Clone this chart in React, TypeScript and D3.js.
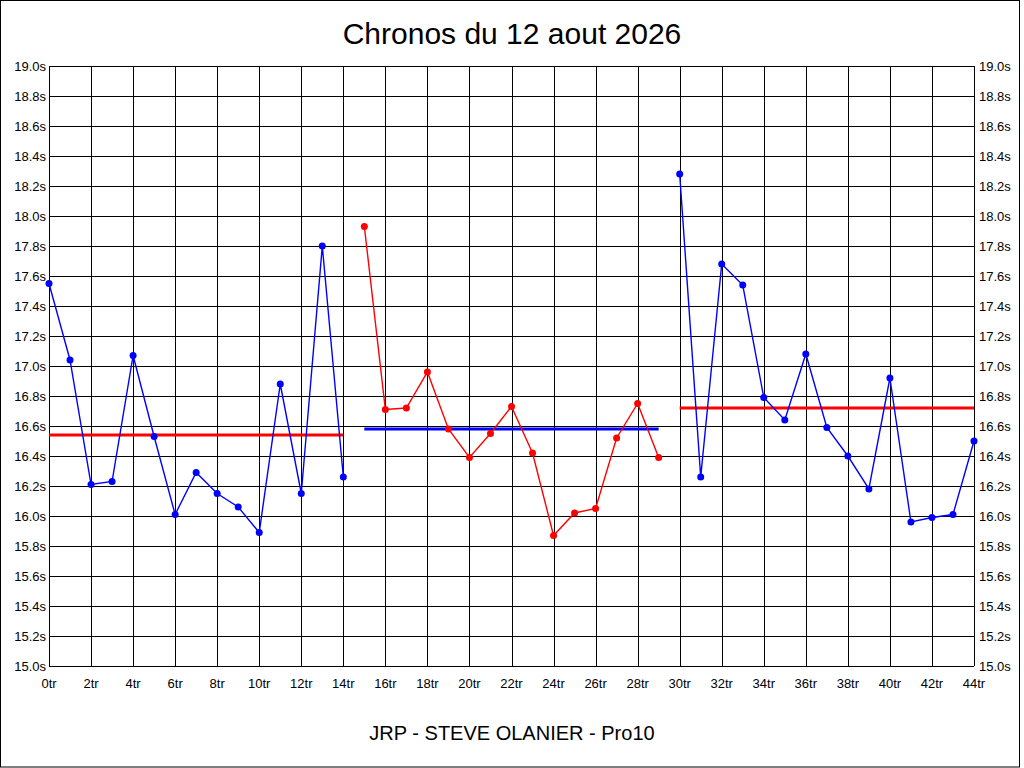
import React from "react";
import * as d3 from "d3";

const title = "Chronos du 12 aout 2026";
const footer = "JRP - STEVE OLANIER - Pro10";

const laps1 = [0, 1, 2, 3, 4, 5, 6, 7, 8, 9, 10, 11, 12, 13, 14];
const times1 = [17.55, 17.04, 16.21, 16.23, 17.07, 16.53, 16.01, 16.29, 16.15, 16.06, 15.89, 16.88, 16.15, 17.8, 16.26];

const laps2 = [15, 16, 17, 18, 19, 20, 21, 22, 23, 24, 25, 26, 27, 28, 29];
const times2 = [17.93, 16.71, 16.72, 16.96, 16.58, 16.39, 16.55, 16.73, 16.42, 15.87, 16.02, 16.05, 16.52, 16.75, 16.39];

const laps3 = [30, 31, 32, 33, 34, 35, 36, 37, 38, 39, 40, 41, 42, 43, 44];
const times3 = [18.28, 16.26, 17.68, 17.54, 16.79, 16.64, 17.08, 16.59, 16.4, 16.18, 16.92, 15.96, 15.99, 16.01, 16.5];

const means = [16.54, 16.58, 16.72];
const seriesColors = ["#0000ff", "#ff0000", "#0000ff"];
const meanColors = ["#ff0000", "#0000ff", "#ff0000"];

const xTicks = d3.range(0, 45, 2);
const yTicks = d3.range(0, 21).map((i) => +(15 + i * 0.2).toFixed(1));

const W = 1024;
const H = 768;
const FONT = "'Liberation Sans', Arial, sans-serif";

export default function App() {
  const x = d3.scaleLinear().domain([0, 44]).range([49, 974]);
  const y = d3.scaleLinear().domain([15, 19]).range([666, 66]);
  const px = (v: number) => Math.round(v) + 0.5;

  const groups = [
    { laps: laps1, times: times1 },
    { laps: laps2, times: times2 },
    { laps: laps3, times: times3 },
  ];

  const line = d3
    .line<[number, number]>()
    .x((d) => x(d[0]))
    .y((d) => y(d[1]));

  return (
    <svg
      width={W}
      height={H}
      style={{ position: "absolute", left: 0, top: 0, background: "#fff" }}
      fontFamily={FONT}
    >
      <rect x={0.5} y={0.5} width={W - 5} height={H - 1.5} fill="#fff" stroke="#000" strokeWidth={1} />
      <text x={512} y={44} textAnchor="middle" fontSize={30} fill="#000">
        {title}
      </text>
      <text x={512} y={740} textAnchor="middle" fontSize={20} fill="#000">
        {footer}
      </text>

      <g shapeRendering="crispEdges" stroke="#000" strokeWidth={1}>
        {xTicks.map((t) => (
          <line key={"vx" + t} x1={px(x(t))} x2={px(x(t))} y1={y(19)} y2={y(15)} />
        ))}
        {yTicks.map((t) => (
          <line key={"hy" + t} x1={x(0)} x2={x(44)} y1={px(y(t))} y2={px(y(t))} />
        ))}
      </g>

      <g fontSize={13} fill="#000">
        {yTicks.map((t) => (
          <text key={"ly" + t} x={46} y={y(t) + 5} textAnchor="end">
            {t.toFixed(1) + "s"}
          </text>
        ))}
        {yTicks.map((t) => (
          <text key={"ry" + t} x={979} y={y(t) + 5} textAnchor="start">
            {t.toFixed(1) + "s"}
          </text>
        ))}
        {xTicks.map((t) => (
          <text key={"lx" + t} x={x(t)} y={688} textAnchor="middle">
            {t + "tr"}
          </text>
        ))}
      </g>

      {groups.map((g, i) => (
        <line
          key={"mean" + i}
          x1={x(g.laps[0])}
          x2={x(g.laps[g.laps.length - 1])}
          y1={y(means[i])}
          y2={y(means[i])}
          stroke={meanColors[i]}
          strokeWidth={3}
        />
      ))}

      {groups.map((g, i) => (
        <g key={"s" + i}>
          <path
            d={line(g.laps.map((l, j) => [l, g.times[j]] as [number, number])) || ""}
            fill="none"
            stroke={seriesColors[i]}
            strokeWidth={1.4}
          />
          {g.laps.map((l, j) => (
            <circle key={j} cx={x(l)} cy={y(g.times[j])} r={3.5} fill={seriesColors[i]} />
          ))}
        </g>
      ))}
    </svg>
  );
}
